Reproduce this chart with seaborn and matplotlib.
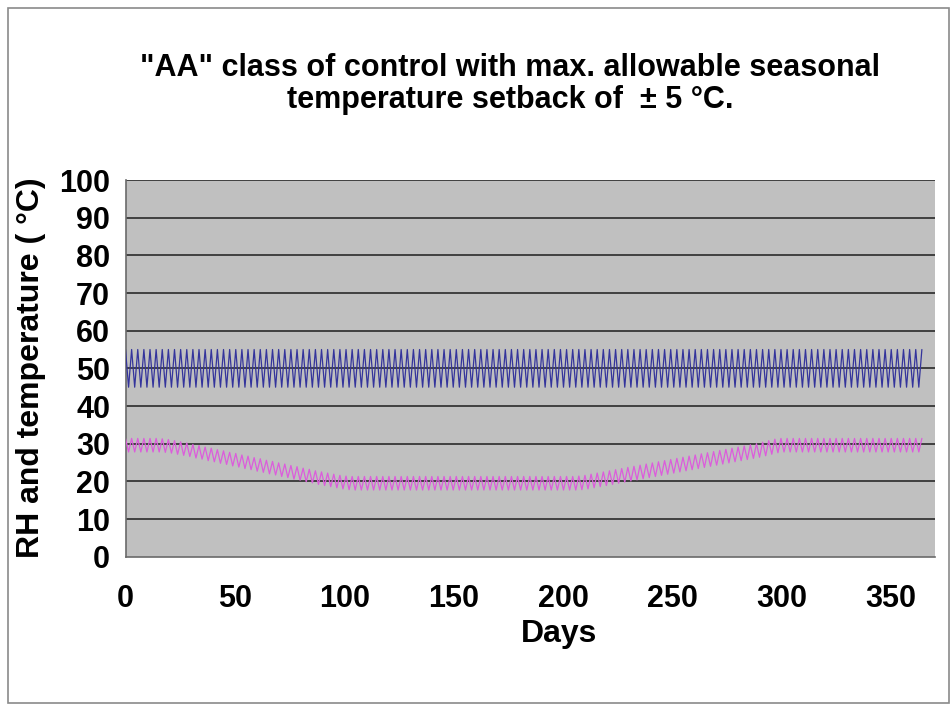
import matplotlib
matplotlib.use("Agg")
import matplotlib.pyplot as plt
import seaborn as sns
import pandas as pd
from matplotlib.patches import Rectangle

# ---------------- data ----------------
title_text = '"AA" class of control with max. allowable seasonal\ntemperature setback of  \u00b1 5 \u00b0C.'
x_label = "Days"
y_label = "RH and temperature ( \u00b0C)"
x_ticks = [0, 50, 100, 150, 200, 250, 300, 350]
y_ticks = [0, 10, 20, 30, 40, 50, 60, 70, 80, 90, 100]

half_cycle_days = 1.4          # spacing between a peak and the next trough
n_vertices = 261               # vertices from day 0 to day 364

rh_peak = 55.0
rh_trough = 45.0

temp_swing = 1.8               # half height of the temperature zigzag
# centre of the temperature zigzag, one value per cycle (2.8 days)
temp_high_start = [29.6] * 5
temp_down = [29.6, 29.5, 29.3, 29.0, 28.7, 28.4, 28.0, 27.7, 27.3, 27.0,
             26.6, 26.3, 25.9, 25.6, 25.2, 24.9, 24.5, 24.2, 23.8, 23.5,
             23.1, 22.8, 22.4, 22.1, 21.7, 21.4, 21.0, 20.7, 20.4, 20.1,
             19.8, 19.6]
temp_low = [19.5] * 36
temp_up = [19.5, 19.6, 19.8, 20.1, 20.4, 20.7, 21.0, 21.3, 21.6, 21.9,
           22.2, 22.5, 22.8, 23.1, 23.4, 23.7, 24.0, 24.3, 24.6, 24.9,
           25.2, 25.5, 25.8, 26.1, 26.4, 26.7, 27.0, 27.3, 27.6, 27.9,
           28.2, 28.6, 29.0, 29.4]
temp_high_end = [29.6] * 24
temp_centre = temp_high_start + temp_down + temp_low + temp_up + temp_high_end

# ---------------- build the series ----------------
days = [half_cycle_days * i for i in range(n_vertices)]
rh = [rh_peak if i % 2 == 0 else rh_trough for i in range(n_vertices)]
temp = [temp_centre[i // 2] + (temp_swing if i % 2 == 0 else -temp_swing)
        for i in range(n_vertices)]
df = pd.DataFrame({"day": days, "RH": rh, "Temp": temp})

# ---------------- figure ----------------
sns.set_theme(style="white")
plt.rcParams["font.family"] = ["Liberation Sans", "DejaVu Sans"]
plt.rcParams["text.color"] = "black"

W, H = 951, 708
fig = plt.figure(figsize=(W / 100, H / 100), dpi=100)
fig.patch.set_facecolor("white")
fig.patches.append(Rectangle((8 / W, 1 - 703 / H), (949 - 8) / W, (703 - 8) / H,
                             transform=fig.transFigure, fill=False,
                             edgecolor="#8a8a8a", linewidth=1.2))

left, right, top, bottom = 125.5, 935, 180, 556.7
ax = fig.add_axes([left / W, 1 - bottom / H, (right - left) / W, (bottom - top) / H])
ax.set_facecolor("#c0c0c0")

for yv in y_ticks[1:]:
    ax.axhline(yv, color="#404040", linewidth=1.4, zorder=1)

sns.lineplot(data=df, x="day", y="RH", ax=ax, color="#34349c", linewidth=0.9,
             estimator=None, sort=False, zorder=3)
sns.lineplot(data=df, x="day", y="Temp", ax=ax, color="#dc5cdc", linewidth=0.9,
             estimator=None, sort=False, zorder=3)

ax.set_xlim(0, 370)
ax.set_ylim(0, 100)
ax.set_xticks(x_ticks)
ax.set_yticks(y_ticks)
ax.set_xlabel("")
ax.set_ylabel("")
for s in ["top", "right"]:
    ax.spines[s].set_visible(False)
for s in ["left", "bottom"]:
    ax.spines[s].set_color("#6a6a6a")
    ax.spines[s].set_linewidth(1.2)
ax.tick_params(axis="both", which="major", direction="out", length=6,
               width=1.0, color="#6a6a6a", labelsize=22, labelcolor="black")
ax.tick_params(axis="x", pad=14)
ax.tick_params(axis="y", pad=5)
for lab in ax.get_xticklabels() + ax.get_yticklabels():
    lab.set_fontweight("bold")

fig.text(510 / W, 1 - 84 / H, title_text, ha="center", va="center",
         fontsize=22, fontweight="bold", linespacing=1.1, color="black")
fig.text(559 / W, 1 - 634 / H, x_label, ha="center", va="center",
         fontsize=23, fontweight="bold", color="black")
fig.text(31 / W, 1 - 368 / H, y_label, ha="center", va="center",
         rotation=90, fontsize=23, fontweight="bold", color="black")

fig.savefig("out.png", dpi=100)
